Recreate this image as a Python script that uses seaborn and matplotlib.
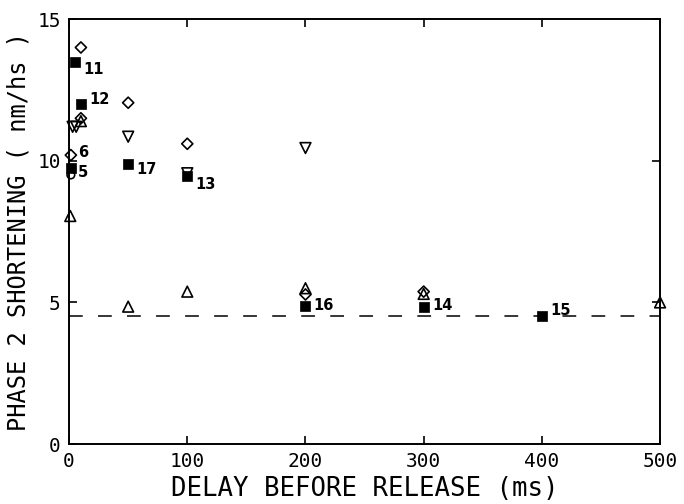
import matplotlib
matplotlib.use("Agg")
import matplotlib.pyplot as plt
import seaborn as sns
import numpy as np

# ---- data ----
sq_x = [5, 10, 50, 100, 200, 300, 400, 1.5]
sq_y = [13.5, 12.0, 9.9, 9.45, 4.88, 4.85, 4.53, 9.75]
sq_lbl = ["11", "12", "17", "13", "16", "14", "15", "5"]

dia_x = [10, 10, 50, 100, 300, 200, 1.5]
dia_y = [14.0, 11.5, 12.05, 10.6, 5.38, 5.28, 10.2]

dn_x = [3, 6, 50, 100, 200]
dn_y = [11.2, 11.2, 10.85, 9.56, 10.45]

up_x = [1, 10, 50, 100, 200, 300, 500]
up_y = [8.05, 11.4, 4.85, 5.38, 5.5, 5.3, 5.0]

circ_x = [1.5]
circ_y = [9.5]

extra_lbl = ["6"]
extra_x = [1.5]
extra_y = [10.2]

ref_level = 4.53

x_ticks = [0, 100, 200, 300, 400, 500]
y_ticks = [0, 5, 10, 15]

# ---- style ----
sns.set_style("ticks")
plt.rcParams["font.family"] = ["DejaVu Sans Mono", "DejaVu Sans"]
plt.rcParams["text.color"] = "black"
plt.rcParams["axes.labelcolor"] = "black"
plt.rcParams["xtick.color"] = "black"
plt.rcParams["ytick.color"] = "black"

fig = plt.figure(figsize=(6.84, 5.04), dpi=100)
ax = fig.add_axes([0.101, 0.119, 0.864, 0.843])

common = dict(ax=ax, clip_on=False, zorder=5, legend=False)
sns.scatterplot(x=dia_x, y=dia_y, marker="D", s=32, facecolors="none",
                edgecolors="black", linewidths=1.2, **common)
sns.scatterplot(x=dn_x, y=dn_y, marker="v", s=60, facecolors="none",
                edgecolors="black", linewidths=1.2, **common)
sns.scatterplot(x=up_x, y=up_y, marker="^", s=60, facecolors="none",
                edgecolors="black", linewidths=1.2, **common)
sns.scatterplot(x=circ_x, y=circ_y, marker="o", s=30, facecolors="none",
                edgecolors="black", linewidths=1.2, **common)
sns.scatterplot(x=sq_x, y=sq_y, marker="s", s=60, color="black",
                edgecolor="black", linewidth=0.5, **common)

offsets = {"11": (6, -6), "12": (6, 3), "17": (6, -4), "13": (6, -6),
           "16": (6, 0), "14": (6, 1), "15": (6, 4), "5": (5, -3), "6": (5, 2)}
for x, y, t in zip(sq_x + extra_x, sq_y + extra_y, sq_lbl + extra_lbl):
    dx, dy = offsets[t]
    ax.annotate(t, (x, y), xytext=(dx, dy), textcoords="offset points",
                ha="left", va="center", fontsize=10.5, fontweight="bold",
                family="DejaVu Sans")

ax.axhline(ref_level, color="black", lw=1.1, dashes=(9, 10), zorder=3)

ax.set_xlim(0, 500)
ax.set_ylim(0, 15)
ax.set_xticks(x_ticks)
ax.set_yticks(y_ticks)
ax.tick_params(direction="in", length=6, width=1.2, top=True, right=True,
               labelsize=14, pad=6, colors="black")
for s in ax.spines.values():
    s.set_linewidth(1.4)
    s.set_color("black")

ax.set_xlabel("DELAY BEFORE RELEASE (ms)", fontsize=18.5, labelpad=3,
              color="black")
ax.set_ylabel("PHASE 2 SHORTENING ( nm/hs )", fontsize=17, labelpad=5,
              color="black")

fig.savefig("out.png", dpi=100)
